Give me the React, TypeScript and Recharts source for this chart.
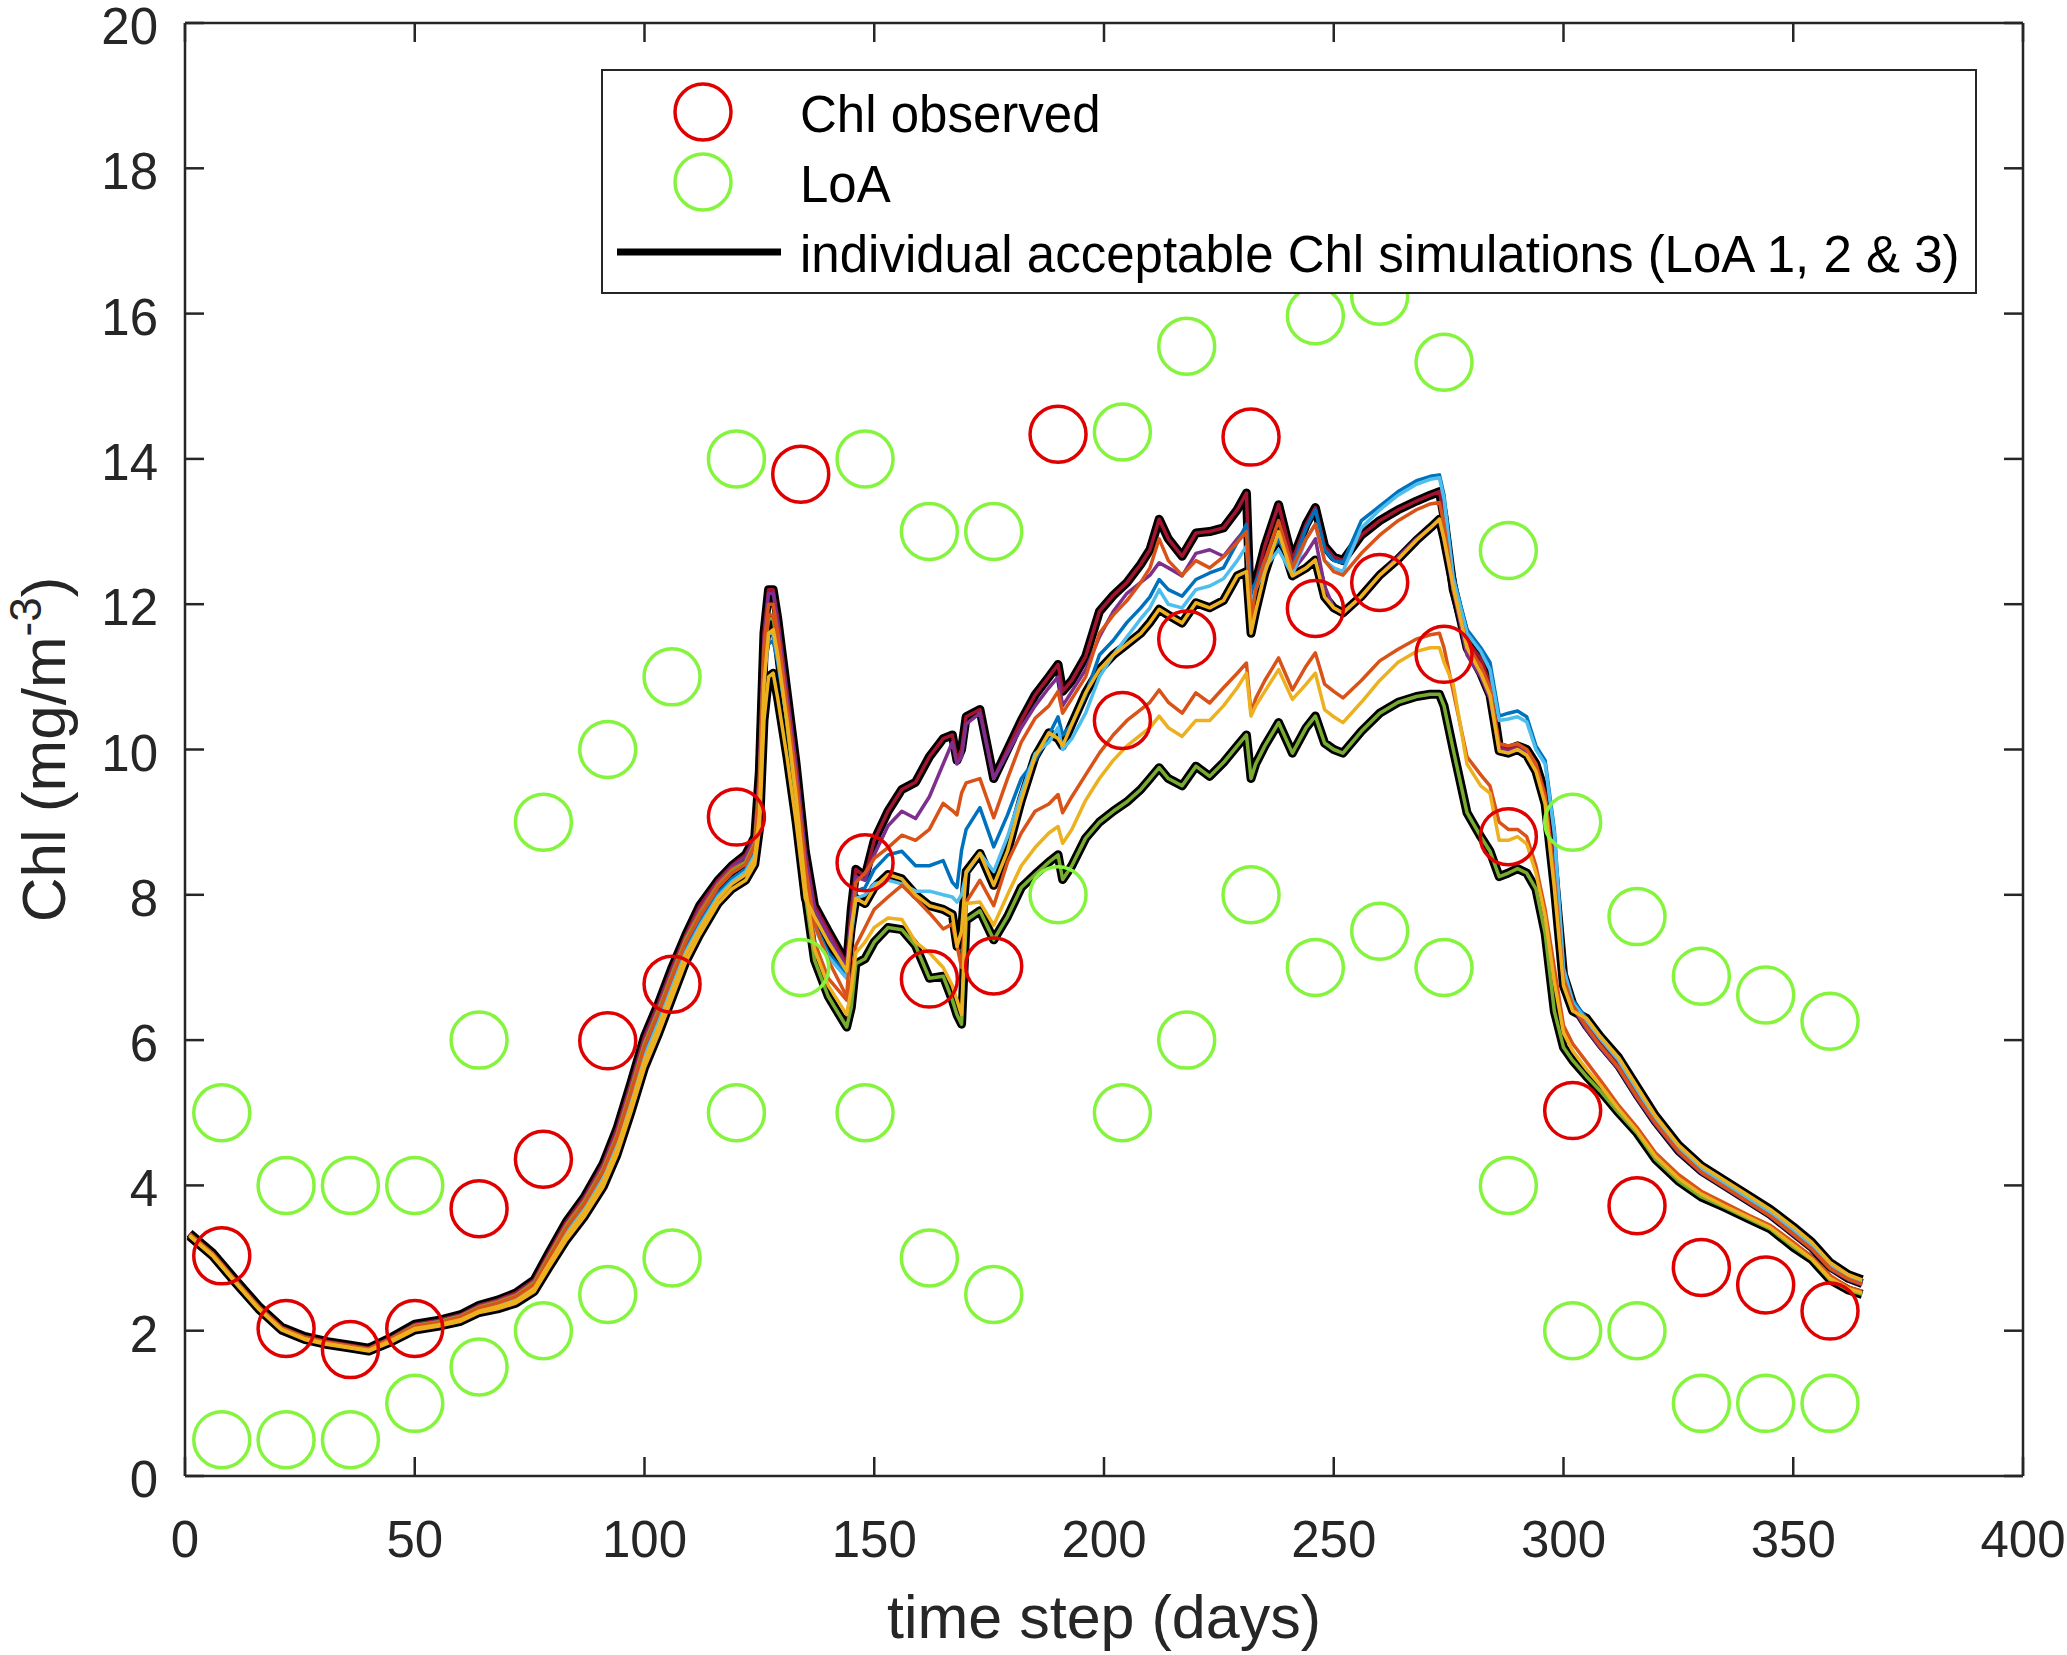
import React from "react";
import { ComposedChart, Line, Scatter, XAxis, YAxis, ReferenceLine, Label } from "recharts";

const W = 2067;
const H = 1655;
const PLOT = { left: 185, right: 2023, top: 23, bottom: 1476 };
const FONT = '"Liberation Sans", Arial, Helvetica, sans-serif';
const INK = "#262626";
const RED = "#E00000";
const GREEN = "#84F53C";

// days on which the simulations were sampled from the figure
const days = [
  1, 6, 11, 16, 21, 26, 31, 36, 40, 45,
  50, 55, 60, 64, 68, 72, 76, 79, 83, 87,
  91, 94, 97, 100, 103, 106, 109, 112, 116, 119,
  122, 124, 125, 126, 127, 128, 129, 131, 133, 135,
  137, 140, 144, 145, 146, 148, 150, 153, 156, 159,
  162, 165, 167, 168, 169, 170, 173, 176, 179, 182,
  185, 188, 190, 191, 193, 196, 199, 202, 205, 208,
  210, 212, 214, 217, 220, 223, 226, 229, 231, 232,
  233, 235, 238, 241, 244, 246, 248, 250, 252, 256,
  260, 264, 268, 271, 273, 274, 276, 279, 282, 284,
  286, 288, 290, 292, 294, 296, 298, 300, 302, 305,
  308, 312, 316, 320, 325, 330, 335, 340, 345, 350,
  354, 358, 362, 365,
];

const simTop = [
  3.34, 3.07, 2.7, 2.34, 2.05, 1.92, 1.85, 1.8, 1.76, 1.91,
  2.09, 2.14, 2.22, 2.35, 2.42, 2.52, 2.7, 3.05, 3.5, 3.85,
  4.3, 4.78, 5.4, 6.05, 6.5, 7.0, 7.45, 7.85, 8.2, 8.4,
  8.55, 8.8, 9.7, 11.6, 12.2, 12.2, 11.8, 10.8, 9.8, 8.6,
  7.85, 7.5, 7.05, 7.8, 8.35, 8.25, 8.75, 9.15, 9.45, 9.55,
  9.9, 10.15, 10.2, 9.85, 10.0, 10.45, 10.55, 9.6, 10.0, 10.4,
  10.75, 11.0, 11.17, 10.8, 10.95, 11.28, 11.9, 12.12, 12.3, 12.55,
  12.75, 13.17, 12.9, 12.66, 12.98, 13.0, 13.05, 13.3, 13.53, 11.7,
  12.3, 12.8, 13.37, 12.61, 13.1, 13.33, 12.8, 12.65, 12.6, 12.95,
  13.15, 13.3, 13.42, 13.5, 13.55, 13.2, 12.2, 11.5, 11.25, 10.9,
  10.05, 10.0, 10.05, 10.0, 9.8, 9.4, 8.3, 6.9, 6.5, 6.2,
  5.95, 5.65, 5.25, 4.88, 4.48, 4.2, 4.0, 3.8, 3.6, 3.35,
  3.15, 2.88, 2.72, 2.65,
];

const simPurple = [
  3.33, 3.06, 2.69, 2.33, 2.04, 1.91, 1.84, 1.79, 1.75, 1.9,
  2.08, 2.13, 2.21, 2.34, 2.41, 2.5, 2.68, 3.02, 3.47, 3.82,
  4.27, 4.74, 5.36, 6.0, 6.46, 6.96, 7.42, 7.8, 8.17, 8.38,
  8.52, 8.76, 9.6, 11.5, 12.15, 12.15, 11.75, 10.75, 9.75, 8.55,
  7.8, 7.45, 7.0, 7.7, 8.25, 8.2, 8.55, 8.95, 9.15, 9.05,
  9.35, 9.8, 10.1, 9.8, 9.9, 10.35, 10.5, 9.6, 9.95, 10.3,
  10.6, 10.85, 11.0, 10.6, 10.8, 11.1, 11.55, 11.9, 12.15, 12.3,
  12.4, 12.57, 12.5, 12.39, 12.7, 12.75, 12.66, 12.9, 13.05, 11.9,
  12.2, 12.55, 12.95, 12.45, 12.7, 12.9, 12.25, 11.95, 11.88, 12.1,
  12.4, 12.65, 12.9, 13.05, 13.17, 12.9, 12.2, 11.3, 11.0, 10.7,
  10.0, 9.98, 10.02, 9.95, 9.75, 9.3, 8.2, 6.8, 6.45, 6.15,
  5.9, 5.6, 5.2, 4.84, 4.45, 4.17, 3.97, 3.77, 3.57, 3.32,
  3.12, 2.85, 2.7, 2.63,
];

const simBlue = [
  3.32, 3.05, 2.68, 2.32, 2.03, 1.9, 1.83, 1.78, 1.74, 1.88,
  2.05, 2.1, 2.18, 2.3, 2.36, 2.45, 2.62, 2.95, 3.38, 3.72,
  4.15, 4.6, 5.2, 5.85, 6.3, 6.8, 7.28, 7.62, 8.02, 8.22,
  8.35, 8.6, 9.3, 11.1, 11.45, 11.5, 11.2, 10.4, 9.4, 8.2,
  7.6, 7.2, 6.9, 7.5, 8.05, 8.1, 8.35, 8.55, 8.6, 8.4,
  8.4, 8.47, 8.17, 8.1, 8.61, 8.9, 9.2, 8.66, 9.1, 9.6,
  9.85, 10.2, 10.45, 10.2, 10.35, 10.75, 11.3, 11.5, 11.75, 11.95,
  12.1, 12.34, 12.2, 12.11, 12.34, 12.43, 12.5, 12.85, 13.1, 12.16,
  12.3, 12.6, 12.89, 12.52, 13.05, 13.3, 12.75, 12.6, 12.57, 13.15,
  13.35, 13.55, 13.7, 13.76, 13.78, 13.5, 12.39, 11.65, 11.4, 11.2,
  10.46, 10.5, 10.53, 10.45, 10.05, 9.85, 8.9, 7.0, 6.55, 6.3,
  6.05, 5.75, 5.35, 4.95, 4.55, 4.26, 4.06, 3.86, 3.66, 3.42,
  3.2, 2.93, 2.76, 2.69,
];

const simLightBlue = [
  3.31, 3.04, 2.67, 2.31, 2.02, 1.89, 1.82, 1.77, 1.73, 1.87,
  2.04, 2.09, 2.16, 2.28, 2.34, 2.43, 2.6, 2.92, 3.34, 3.68,
  4.1, 4.55, 5.14, 5.78, 6.24, 6.74, 7.22, 7.57, 7.98, 8.18,
  8.32, 8.55, 9.2, 11.0, 11.6, 11.6, 11.25, 10.4, 9.4, 8.25,
  7.55, 7.15, 6.85, 7.45, 7.95, 8.0, 8.15, 8.2, 8.15, 8.05,
  8.05, 8.0, 7.97, 7.9, 8.0, 8.3, 8.57, 8.32, 8.8, 9.4,
  9.94, 10.1, 10.3, 10.0, 10.15, 10.5, 11.0, 11.3, 11.55, 11.8,
  11.95, 12.2, 12.0, 11.95, 12.2, 12.25, 12.35, 12.6, 12.8, 12.0,
  12.2, 12.5, 12.75, 12.4, 12.9, 13.1, 12.6, 12.5, 12.45, 13.05,
  13.3, 13.5, 13.65, 13.72, 13.74, 13.45, 12.35, 11.6, 11.35, 11.1,
  10.4, 10.42, 10.45, 10.38, 10.0, 9.8, 8.85, 6.98, 6.52, 6.27,
  6.02, 5.72, 5.32, 4.92, 4.52, 4.23, 4.03, 3.83, 3.63, 3.39,
  3.18, 2.91, 2.74, 2.67,
];

const simSecond = [
  3.3, 3.03, 2.66, 2.3, 2.01, 1.88, 1.81, 1.76, 1.72, 1.85,
  2.01, 2.06, 2.13, 2.25, 2.3, 2.38, 2.54, 2.85, 3.25, 3.58,
  3.98, 4.42, 5.0, 5.62, 6.08, 6.58, 7.08, 7.45, 7.88, 8.08,
  8.2, 8.42, 8.9, 10.4, 11.0, 11.05, 10.7, 9.9, 9.0, 7.95,
  7.7, 7.35, 6.95, 7.55, 7.95, 7.88, 8.1, 8.28, 8.22, 8.0,
  7.85, 7.8, 7.73, 7.29, 7.5, 8.32, 8.57, 8.13, 8.6, 9.3,
  9.9, 10.23, 10.15, 10.05, 10.35, 10.78, 11.1, 11.3, 11.45, 11.6,
  11.75, 11.93, 11.85, 11.74, 12.02, 11.95, 12.05, 12.39, 12.45, 11.6,
  11.9, 12.43, 13.0, 12.39, 12.5, 12.61, 12.1, 11.95, 11.88, 12.11,
  12.4, 12.62, 12.88, 13.05, 13.17, 12.9, 12.25, 11.4, 11.05, 10.75,
  9.98, 9.95, 10.0, 9.92, 9.7, 9.25, 8.1, 6.75, 6.4, 6.3,
  6.05, 5.76, 5.36, 4.96, 4.56, 4.27, 4.07, 3.87, 3.67, 3.43,
  3.22, 2.94, 2.77, 2.7,
];

const simOrange = [
  3.32, 3.05, 2.68, 2.32, 2.03, 1.9, 1.83, 1.78, 1.74, 1.89,
  2.06, 2.11, 2.19, 2.31, 2.38, 2.47, 2.64, 2.98, 3.42, 3.76,
  4.2, 4.66, 5.27, 5.92, 6.37, 6.87, 7.35, 7.7, 8.1, 8.3,
  8.42, 8.68, 9.4, 11.3, 11.85, 11.85, 11.5, 10.5, 9.45, 8.2,
  7.35, 6.85, 6.55, 6.8, 7.3, 7.55, 7.8, 7.97, 8.13, 7.95,
  7.75, 7.53, 7.6, 7.3, 7.0, 7.9, 8.2, 7.85, 8.45, 8.85,
  9.15, 9.25, 9.38, 9.13, 9.35, 9.65, 9.95, 10.2, 10.4, 10.55,
  10.65, 10.82, 10.65, 10.5, 10.78, 10.64, 10.85, 11.05, 11.19, 10.5,
  10.7, 10.95, 11.26, 10.82, 11.15, 11.33, 10.9, 10.8, 10.71, 10.95,
  11.22, 11.38, 11.52, 11.58, 11.6, 11.4, 10.8, 9.9, 9.65, 9.5,
  9.0, 8.9, 8.9, 8.8, 8.4, 7.8, 7.0, 6.2, 5.95, 5.7,
  5.45, 5.1, 4.8, 4.45, 4.15, 3.92, 3.76, 3.6, 3.45, 3.22,
  3.02, 2.76, 2.6, 2.54,
];

const simYellow = [
  3.31, 3.04, 2.67, 2.31, 2.02, 1.89, 1.82, 1.77, 1.73, 1.87,
  2.03, 2.08, 2.15, 2.27, 2.33, 2.41, 2.58, 2.9, 3.31, 3.65,
  4.06, 4.5, 5.08, 5.72, 6.18, 6.68, 7.18, 7.53, 7.95, 8.15,
  8.28, 8.5, 9.1, 10.9, 11.6, 11.65, 11.3, 10.4, 9.35, 8.1,
  7.25, 6.75, 6.35, 6.7, 7.2, 7.35, 7.55, 7.68, 7.66, 7.35,
  7.2, 7.0, 6.75, 6.55, 6.35, 7.88, 7.9, 7.58, 8.0, 8.4,
  8.65, 8.85, 8.94, 8.71, 8.9, 9.3, 9.6, 9.85, 10.05, 10.2,
  10.3, 10.46, 10.3, 10.18, 10.4, 10.4, 10.6, 10.85, 11.05, 10.46,
  10.6, 10.8, 11.1, 10.69, 10.9, 11.05, 10.55, 10.45, 10.37, 10.65,
  10.95, 11.2, 11.35, 11.4, 11.4, 11.2, 10.9, 9.8, 9.5, 9.4,
  8.75, 8.75, 8.8, 8.7, 8.3, 7.7, 6.8, 6.1, 5.85, 5.6,
  5.38, 5.05, 4.75, 4.4, 4.1, 3.88, 3.72, 3.57, 3.42, 3.18,
  2.99, 2.72, 2.58, 2.52,
];

const simLow = [
  3.32, 3.05, 2.68, 2.32, 2.03, 1.9, 1.83, 1.78, 1.74, 1.89,
  2.07, 2.12, 2.2, 2.32, 2.39, 2.48, 2.66, 3.0, 3.44, 3.78,
  4.22, 4.68, 5.3, 5.95, 6.4, 6.9, 7.38, 7.72, 8.12, 8.32,
  8.45, 8.7, 9.45, 11.3, 11.8, 11.8, 11.4, 10.35, 9.3, 8.0,
  7.1, 6.6, 6.18, 6.45, 7.05, 7.12, 7.35, 7.55, 7.52, 7.3,
  6.85, 6.88, 6.55, 6.35, 6.22, 7.65, 7.78, 7.38, 7.7, 8.1,
  8.28, 8.45, 8.55, 8.21, 8.4, 8.78, 9.0, 9.15, 9.28, 9.45,
  9.6, 9.75, 9.6, 9.5, 9.77, 9.63, 9.82, 10.05, 10.2, 9.6,
  9.8, 10.05, 10.37, 9.95, 10.3, 10.46, 10.09, 10.0, 9.95, 10.25,
  10.5, 10.65, 10.73, 10.76, 10.76, 10.6, 10.0, 9.13, 8.8, 8.6,
  8.25, 8.3, 8.36, 8.3, 8.08, 7.47, 6.4, 5.9, 5.72, 5.5,
  5.3, 5.0, 4.72, 4.36, 4.06, 3.84, 3.7, 3.55, 3.4, 3.15,
  2.98, 2.7, 2.56, 2.5,
];

const simUpperOrange = [
  3.33, 3.06, 2.69, 2.33, 2.04, 1.91, 1.84, 1.79, 1.75, 1.9,
  2.07, 2.12, 2.2, 2.33, 2.4, 2.49, 2.67, 3.01, 3.46, 3.8,
  4.24, 4.7, 5.32, 5.96, 6.42, 6.92, 7.4, 7.76, 8.15, 8.35,
  8.45, 8.72, 9.5, 11.4, 12.0, 12.0, 11.6, 10.6, 9.6, 8.4,
  7.6, 7.1, 6.6, 7.5, 8.17, 8.3, 8.5, 8.65, 8.82, 8.75,
  8.9, 9.26, 9.16, 9.1, 9.4, 9.54, 9.6, 9.06, 9.6, 10.1,
  10.43, 10.6, 10.8, 10.5, 10.7, 11.0, 11.6, 11.85, 12.05, 12.3,
  12.5, 12.9, 12.6, 12.4, 12.6, 12.5, 12.65, 12.85, 13.0, 11.8,
  12.2, 12.6, 13.15, 12.5, 12.9, 13.1, 12.6, 12.45, 12.4, 12.7,
  12.95, 13.15, 13.3, 13.38, 13.4, 13.1, 12.2, 11.45, 11.15, 10.85,
  10.08, 10.05, 10.08, 10.0, 9.8, 9.35, 8.25, 6.85, 6.48, 6.18,
  5.92, 5.62, 5.22, 4.86, 4.47, 4.18, 3.98, 3.78, 3.58, 3.33,
  3.13, 2.86, 2.71, 2.64,
];

// observation days (every 14 days)
const obsDays = [8, 22, 36, 50, 64, 78, 92, 106, 120, 134, 148, 162, 176, 190, 204, 218, 232, 246, 260, 274, 288, 302, 316, 330, 344, 358];
const chlObserved = [3.03, 2.03, 1.74, 2.03, 3.68, 4.36, 5.99, 6.77, 9.07, 13.79, 8.44, 6.84, 7.02, 14.34, 10.4, 11.52, 14.3, 11.94, 12.3, 11.31, 8.8, 5.03, 3.72, 2.87, 2.63, 2.27];
const loaUpper = [5, 4, 4, 4, 6, 9, 10, 11, 14, 17.5, 14, 13, 13, 18, 14.37, 15.55, 17.8, 15.97, 16.24, 15.33, 12.74, 9, 7.7, 6.88, 6.62, 6.26];
const loaLower = [0.5, 0.5, 0.5, 1, 1.5, 2, 2.5, 3, 5, 7, 5, 3, 2.5, 8, 5, 6, 8, 7, 7.5, 7, 4, 2, 2, 1, 1, 1];

const xTicks = [0, 50, 100, 150, 200, 250, 300, 350, 400];
const yTicks = [0, 2, 4, 6, 8, 10, 12, 14, 16, 18, 20];

const rows = days.map((day, i) => ({
  day,
  top: simTop[i],
  purple: simPurple[i],
  blue: simBlue[i],
  lightBlue: simLightBlue[i],
  second: simSecond[i],
  orange: simOrange[i],
  yellow: simYellow[i],
  low: simLow[i],
  upperOrange: simUpperOrange[i],
}));

const observed = obsDays.map((day, i) => ({ day, v: chlObserved[i] }));
const loa = [
  ...obsDays.map((day, i) => ({ day, v: loaUpper[i] })),
  ...obsDays.map((day, i) => ({ day, v: loaLower[i] })),
];

const ring = (color: string) => (props: any) =>
  <circle cx={props.cx} cy={props.cy} r={28} fill="none" stroke={color} strokeWidth={3.5} />;

function XTick({ x, payload }: any) {
  return (
    <g>
      <line x1={x} x2={x} y1={PLOT.bottom} y2={PLOT.bottom - 19} stroke={INK} strokeWidth={2.5} />
      <line x1={x} x2={x} y1={PLOT.top} y2={PLOT.top + 19} stroke={INK} strokeWidth={2.5} />
      <text x={x} y={PLOT.bottom + 81} textAnchor="middle" fontSize={51} fontFamily={FONT} fill={INK}>
        {payload.value}
      </text>
    </g>
  );
}

function YTick({ y, payload }: any) {
  return (
    <g>
      <line x1={PLOT.left} x2={PLOT.left + 19} y1={y} y2={y} stroke={INK} strokeWidth={2.5} />
      <line x1={PLOT.right} x2={PLOT.right - 19} y1={y} y2={y} stroke={INK} strokeWidth={2.5} />
      <text x={PLOT.left - 27} y={y + 21} textAnchor="end" fontSize={51} fontFamily={FONT} fill={INK}>
        {payload.value}
      </text>
    </g>
  );
}

const simLines = [
  { key: "top", color: "#A2142F" },
  { key: "purple", color: "#7E2F8E" },
  { key: "blue", color: "#0072BD" },
  { key: "lightBlue", color: "#4DBEEE" },
  { key: "upperOrange", color: "#D95319" },
  { key: "low", color: "#77AC30" },
  { key: "orange", color: "#D95319" },
  { key: "yellow", color: "#EDB120" },
  { key: "second", color: "#EDB120" },
];
const outlined = ["top", "second", "low"];

function Legend() {
  return (
    <div
      style={{
        position: "absolute",
        left: 601,
        top: 69,
        width: 1376,
        height: 225,
        boxSizing: "border-box",
        border: `2.5px solid ${INK}`,
        background: "#fff",
      }}
    >
      <svg width={1371} height={220} style={{ position: "absolute", left: 0, top: 0 }}>
        <circle cx={100} cy={41} r={28} fill="none" stroke={RED} strokeWidth={3.5} />
        <circle cx={100} cy={111} r={28} fill="none" stroke={GREEN} strokeWidth={3.5} />
        <line x1={14} x2={178} y1={181} y2={181} stroke="#000" strokeWidth={7} />
        <text x={197} y={61} fontSize={51} fontFamily={FONT} fill="#000">Chl observed</text>
        <text x={197} y={131} fontSize={51} fontFamily={FONT} fill="#000">LoA</text>
        <text x={197} y={201} fontSize={51} fontFamily={FONT} fill="#000">
          individual acceptable Chl simulations (LoA 1, 2 &amp; 3)
        </text>
      </svg>
    </div>
  );
}

export default function App() {
  return (
    <div style={{ position: "absolute", left: 0, top: 0, width: W, height: H, background: "#fff" }}>
      <ComposedChart
        width={W}
        height={H}
        data={rows}
        margin={{ top: PLOT.top, right: W - PLOT.right, bottom: H - PLOT.bottom - 100, left: PLOT.left - 100 }}
      >
        <XAxis
          dataKey="day"
          type="number"
          domain={[0, 400]}
          ticks={xTicks}
          interval={0}
          height={100}
          tickLine={false}
          axisLine={{ stroke: INK, strokeWidth: 2.5 }}
          tick={(p: any) => <XTick {...p} />}
        >
          <Label
            content={() => (
              <text x={(PLOT.left + PLOT.right) / 2} y={1638} textAnchor="middle" fontSize={61} fontFamily={FONT} fill={INK}>
                time step (days)
              </text>
            )}
          />
        </XAxis>
        <YAxis
          type="number"
          domain={[0, 20]}
          ticks={yTicks}
          interval={0}
          width={100}
          tickLine={false}
          axisLine={{ stroke: INK, strokeWidth: 2.5 }}
          tick={(p: any) => <YTick {...p} />}
        >
          <Label
            content={() => (
              <text
                x={65}
                y={(PLOT.top + PLOT.bottom) / 2}
                transform={`rotate(-90 65 ${(PLOT.top + PLOT.bottom) / 2})`}
                textAnchor="middle"
                fontSize={62}
                fontFamily={FONT}
                fill={INK}
              >
                Chl (mg/m<tspan dy={-24} fontSize={44}>-3</tspan>
                <tspan dy={24}>)</tspan>
              </text>
            )}
          />
        </YAxis>
        <ReferenceLine y={20} stroke={INK} strokeWidth={2.5} />
        <ReferenceLine x={400} stroke={INK} strokeWidth={2.5} />
        <Scatter data={loa} dataKey="v" shape={ring(GREEN)} isAnimationActive={false} />
        <Scatter data={observed} dataKey="v" shape={ring(RED)} isAnimationActive={false} />
        {outlined.map((k) => (
          <Line
            key={`outline-${k}`}
            dataKey={k}
            type="linear"
            stroke="#000"
            strokeWidth={9}
            strokeLinejoin="round"
            dot={false}
            activeDot={false}
            isAnimationActive={false}
          />
        ))}
        {simLines.map((s) => (
          <Line
            key={s.key}
            dataKey={s.key}
            type="linear"
            stroke={s.color}
            strokeWidth={3.5}
            strokeLinejoin="round"
            dot={false}
            activeDot={false}
            isAnimationActive={false}
          />
        ))}
      </ComposedChart>
      <Legend />
    </div>
  );
}
